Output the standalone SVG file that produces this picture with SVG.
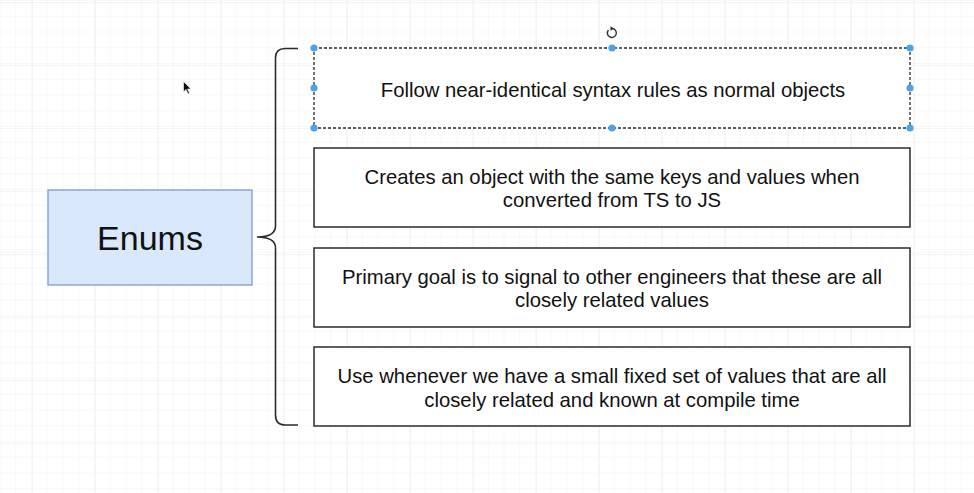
<svg xmlns="http://www.w3.org/2000/svg" width="974" height="493" viewBox="0 0 974 493">
  <style>
    .box { fill: #ffffff; stroke: #2b2b2b; stroke-width: 1.5; }
    .sel { fill: #ffffff; stroke: #2b2b2b; stroke-width: 1.3; stroke-dasharray: 3 2; }
    .txt { font-family: "Liberation Sans", Arial, sans-serif; font-size: 20.3px; fill: #111111; text-anchor: middle; }
    .big { font-family: "Liberation Sans", Arial, sans-serif; font-size: 34px; fill: #111111; text-anchor: middle; }
    .handle { fill: #4da3ea; stroke: none; }
    .conn { fill: none; stroke: #2b2b2b; stroke-width: 1.6; }
  </style>
  <defs>
    <pattern id="minor" x="0.5" y="1" width="15.75" height="15.75" patternUnits="userSpaceOnUse">
      <path d="M15.75 0 V15.75 M0 15.75 H15.75" fill="none" stroke="#f1f1f1" stroke-width="1"/>
    </pattern>
    <pattern id="major" x="32" y="2" width="63" height="63" patternUnits="userSpaceOnUse">
      <path d="M0 0 V63 M0 0 H63" fill="none" stroke="#e9e9e9" stroke-width="1"/>
    </pattern>
  </defs>
  <rect width="974" height="493" fill="#ffffff"/>
  <rect width="974" height="493" fill="url(#minor)"/>
  <rect width="974" height="493" fill="url(#major)"/>

  <g id="connectors">
    <path class="conn" d="M298,48.5 H285 Q275.5,48.5 275.5,58 V226 Q275.5,237 257,237 Q275.5,237 275.5,248 V415 Q275.5,425 285,425 H298"/>
  </g>

  <g id="node-enums">
    <rect x="48" y="190" width="204" height="95" fill="#dae8fc" stroke="#7b9cd0" stroke-width="1.3"/>
    <text class="big" x="150" y="250">Enums</text>
  </g>

  <g id="node-syntax">
    <rect class="sel" x="314" y="48" width="596" height="80"/>
    <text class="txt" x="613" y="97">Follow near-identical syntax rules as normal objects</text>
    <circle class="handle" cx="314" cy="48" r="3.6"/>
    <circle class="handle" cx="612" cy="48" r="3.6"/>
    <circle class="handle" cx="910" cy="48" r="3.6"/>
    <circle class="handle" cx="314" cy="88" r="3.6"/>
    <circle class="handle" cx="910" cy="88" r="3.6"/>
    <circle class="handle" cx="314" cy="128" r="3.6"/>
    <circle class="handle" cx="612" cy="128" r="3.6"/>
    <circle class="handle" cx="910" cy="128" r="3.6"/>
    <path d="M608.5,30 A4.5,4.5 0 1 0 612,28.5" fill="none" stroke="#333" stroke-width="1.4"/>
    <path d="M610.5,26 L613.5,28.5 L610.5,31 Z" fill="#333"/>
  </g>

  <g id="node-creates">
    <rect class="box" x="314" y="148" width="596" height="79"/>
    <text class="txt" x="612" y="184">Creates an object with the same keys and values when</text>
    <text class="txt" x="612" y="207">converted from TS to JS</text>
  </g>

  <g id="node-goal">
    <rect class="box" x="314" y="248" width="596" height="79"/>
    <text class="txt" x="612" y="284">Primary goal is to signal to other engineers that these are all</text>
    <text class="txt" x="612" y="307">closely related values</text>
  </g>

  <g id="node-use">
    <rect class="box" x="314" y="347" width="596" height="79"/>
    <text class="txt" x="612" y="383">Use whenever we have a small fixed set of values that are all</text>
    <text class="txt" x="612" y="407">closely related and known at compile time</text>
  </g>

  <path d="M183.5,81.5 L183.5,92 L186,89.5 L188,94 L189.5,93.3 L187.6,89 L191,89 Z" fill="#111" stroke="#fff" stroke-width="0.6"/>
</svg>
